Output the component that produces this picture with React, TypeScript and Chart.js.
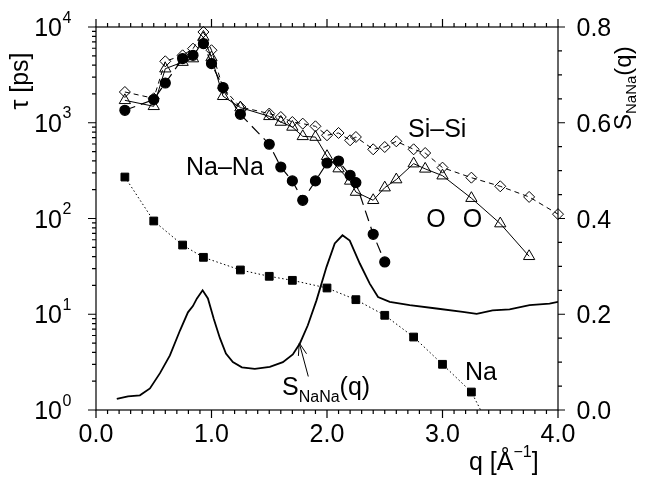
import React, { useEffect, useRef } from 'react';
import { Chart, registerables } from 'chart.js';
Chart.register(...registerables);

// Si–Si (open diamonds, dashed)
const qSi = [0.25, 0.5, 0.6, 0.75, 0.84, 0.93, 1.0, 1.1, 1.25, 1.5, 1.6, 1.7, 1.79, 1.9, 2.0, 2.1, 2.2, 2.25, 2.4, 2.5, 2.6, 2.75, 2.85, 3.0, 3.25, 3.5, 3.75, 4.0];
const tauSi = [2095, 1800, 4385, 5060, 5940, 8870, 5720, 2300, 1460, 1247, 1148, 1018, 979, 918, 740, 782, 656, 710, 528, 558, 640, 528, 483, 340, 267, 217, 168, 111];

// O–O (open triangles, solid)
const qO = [0.25, 0.5, 0.6, 0.75, 0.84, 0.93, 1.0, 1.1, 1.25, 1.5, 1.6, 1.7, 1.79, 1.9, 2.0, 2.1, 2.2, 2.25, 2.4, 2.5, 2.6, 2.75, 2.85, 3.0, 3.25, 3.5, 3.75];
const tauO = [1715, 1485, 3670, 4300, 4680, 7870, 4800, 1890, 1440, 1167, 1018, 904, 721, 709, 447, 332, 247, 189, 155, 210, 255, 374, 330, 280, 163, 88.5, 40.3];

// Na–Na (filled circles, long dashes)
const qNaNa = [0.25, 0.5, 0.6, 0.75, 0.84, 0.93, 1.0, 1.1, 1.25, 1.5, 1.6, 1.7, 1.79, 1.9, 2.0, 2.1, 2.2, 2.25, 2.4, 2.5];
const tauNaNa = [1349, 1746, 2600, 4680, 5060, 6700, 4150, 2330, 1225, 596, 345, 247, 155, 247, 380, 398, 283, 237, 68.4, 35.2];

// Na (filled squares, dotted)
const qNa = [0.25, 0.5, 0.75, 0.93, 1.25, 1.5, 1.7, 2.0, 2.25, 2.5, 2.75, 3.0, 3.25, 3.5];
const tauNa = [271, 94.2, 52.8, 39.3, 29.0, 24.9, 22.6, 18.8, 14.2, 9.75, 5.78, 3.0, 1.54, 0.4];

// S_NaNa(q) (right axis, solid curve)
const qS = [0.18, 0.277, 0.38, 0.467, 0.554, 0.64, 0.727, 0.796, 0.839, 0.874, 0.923, 0.969, 1.02, 1.073, 1.125, 1.185, 1.263, 1.375, 1.505, 1.618, 1.704, 1.765, 1.834, 1.909, 1.996, 2.067, 2.134, 2.197, 2.284, 2.37, 2.442, 2.543, 2.716, 2.947, 3.175, 3.296, 3.434, 3.581, 3.754, 3.927, 4.0];
const sNaNa = [0.023, 0.0286, 0.0307, 0.045, 0.077, 0.114, 0.166, 0.204, 0.217, 0.233, 0.25, 0.233, 0.19, 0.15, 0.118, 0.1, 0.089, 0.086, 0.09, 0.1, 0.116, 0.139, 0.177, 0.229, 0.299, 0.348, 0.365, 0.354, 0.306, 0.264, 0.236, 0.226, 0.219, 0.212, 0.205, 0.201, 0.208, 0.21, 0.219, 0.222, 0.226];

const xTickValues = [0, 1, 2, 3, 4];
const xTickLabels = ['0.0', '1.0', '2.0', '3.0', '4.0'];
const leftTickExps = [0, 1, 2, 3, 4];
const rightTickValues = [0, 0.2, 0.4, 0.6, 0.8];
const rightTickLabels = ['0.0', '0.2', '0.4', '0.6', '0.8'];

const FONT = '"Liberation Sans", Arial, Helvetica, sans-serif';

function pts(xs: number[], ys: number[]) {
  return xs.map((x, i) => ({ x, y: ys[i] }));
}

const decoPlugin = {
  id: 'deco',
  afterDraw(chart: any) {
    const ctx: CanvasRenderingContext2D = chart.ctx;
    const { left, right, top, bottom } = chart.chartArea;
    const xs = chart.scales.x, ys = chart.scales.y, y2 = chart.scales.y2;
    ctx.save();
    ctx.strokeStyle = '#000';
    ctx.fillStyle = '#000';
    ctx.lineWidth = 1.2;
    ctx.strokeRect(left, top, right - left, bottom - top);
    ctx.beginPath();
    // x ticks (bottom & top)
    for (let i = 0; i <= 40; i++) {
      const px = xs.getPixelForValue(i / 10);
      const len = i % 10 === 0 ? 8 : 4;
      ctx.moveTo(px, bottom); ctx.lineTo(px, bottom + len);
      ctx.moveTo(px, top); ctx.lineTo(px, top - len);
    }
    // left log ticks
    for (let d = 0; d < 4; d++) {
      for (let m = 1; m <= 9; m++) {
        const py = ys.getPixelForValue(m * Math.pow(10, d));
        const len = m === 1 ? 8 : 4;
        ctx.moveTo(left - len, py); ctx.lineTo(left, py);
      }
    }
    {
      const py = ys.getPixelForValue(10000);
      ctx.moveTo(left - 8, py); ctx.lineTo(left, py);
    }
    // right linear ticks
    for (let i = 0; i <= 16; i++) {
      const py = y2.getPixelForValue(i * 0.05);
      const len = i % 4 === 0 ? 7 : 4;
      ctx.moveTo(right, py); ctx.lineTo(right + len, py);
    }
    ctx.stroke();

    // left labels 10^n
    ctx.textBaseline = 'alphabetic';
    leftTickExps.forEach((e) => {
      const py = ys.getPixelForValue(Math.pow(10, e));
      ctx.font = `25px ${FONT}`;
      ctx.textAlign = 'right';
      ctx.fillText('10', left - 34, py + 9);
      ctx.font = `16px ${FONT}`;
      ctx.textAlign = 'left';
      ctx.fillText(String(e), left - 33.5, py - 4.4);
    });
    // bottom labels
    ctx.font = `25px ${FONT}`;
    ctx.textAlign = 'center';
    xTickValues.forEach((v, i) => {
      ctx.fillText(xTickLabels[i], xs.getPixelForValue(v), bottom + 31.5);
    });
    // right labels
    ctx.textAlign = 'left';
    rightTickValues.forEach((v, i) => {
      ctx.fillText(rightTickLabels[i], right + 18.5, y2.getPixelForValue(v) + 9);
    });

    // left title: τ [ps]
    ctx.save();
    ctx.translate(28, 81);
    ctx.rotate(-Math.PI / 2);
    ctx.textAlign = 'center';
    ctx.font = `25px ${FONT}`;
    ctx.fillText('τ [ps]', 0, 0);
    ctx.restore();

    // right title: S_NaNa(q)
    ctx.save();
    ctx.translate(631, 130);
    ctx.rotate(-Math.PI / 2);
    ctx.textAlign = 'left';
    ctx.font = `24px ${FONT}`;
    ctx.fillText('S', 0, 0);
    let w = ctx.measureText('S').width;
    ctx.font = `15px ${FONT}`;
    ctx.fillText('NaNa', w, 5);
    w += ctx.measureText('NaNa').width;
    ctx.font = `24px ${FONT}`;
    ctx.fillText('(q)', w, 0);
    ctx.restore();

    // x title: q [Å^-1]
    ctx.textAlign = 'left';
    ctx.font = `25px ${FONT}`;
    let tx = 469;
    ctx.fillText('q [Å', tx, 470);
    tx += ctx.measureText('q [Å').width;
    ctx.font = `16px ${FONT}`;
    ctx.fillText('−1', tx, 457);
    tx += ctx.measureText('−1').width;
    ctx.font = `25px ${FONT}`;
    ctx.fillText(']', tx, 470);

    // series labels
    ctx.font = `25px ${FONT}`;
    ctx.textAlign = 'left';
    ctx.fillText('Na–Na', 186, 175);
    ctx.fillText('Si–Si', 408, 137);
    ctx.fillText('Na', 465, 380);
    ctx.textAlign = 'center';
    ctx.fillText('O', 436, 227);
    ctx.fillText('O', 472.5, 227);

    // S_NaNa(q) annotation
    ctx.textAlign = 'left';
    ctx.font = `25px ${FONT}`;
    let ax = 282;
    ctx.fillText('S', ax, 395);
    ax += ctx.measureText('S').width;
    ctx.font = `16px ${FONT}`;
    ctx.fillText('NaNa', ax, 401.5);
    ax += ctx.measureText('NaNa').width;
    ctx.font = `25px ${FONT}`;
    ctx.fillText('(q)', ax, 395);

    // arrow to the curve
    const tipX = xs.getPixelForValue(1.76), tipY = y2.getPixelForValue(0.14);
    const tailX = xs.getPixelForValue(1.838), tailY = y2.getPixelForValue(0.07);
    const ang = Math.atan2(tailY - tipY, tailX - tipX);
    const hl = 13, ha = 0.33;
    ctx.lineWidth = 1;
    ctx.beginPath();
    ctx.moveTo(tailX, tailY); ctx.lineTo(tipX, tipY);
    ctx.moveTo(tipX + hl * Math.cos(ang - ha), tipY + hl * Math.sin(ang - ha));
    ctx.lineTo(tipX, tipY);
    ctx.lineTo(tipX + hl * Math.cos(ang + ha), tipY + hl * Math.sin(ang + ha));
    ctx.stroke();
    ctx.restore();
  },
};

export default function App() {
  const ref = useRef<HTMLCanvasElement | null>(null);
  useEffect(() => {
    if (!ref.current) return;
    const open = 'rgba(0,0,0,0)';
    const chart = new Chart(ref.current, {
      type: 'line',
      data: {
        datasets: [
          {
            label: 'S_NaNa(q)', data: pts(qS, sNaNa), yAxisID: 'y2',
            borderColor: '#000', borderWidth: 1.8, pointRadius: 0, fill: false, tension: 0,
          },
          {
            label: 'Na–Na', data: pts(qNaNa, tauNaNa), yAxisID: 'y',
            borderColor: '#000', borderWidth: 1.2, borderDash: [11, 6],
            pointStyle: 'circle', pointRadius: 5, pointBackgroundColor: '#000', pointBorderColor: '#000',
            fill: false, tension: 0, clip: 8,
          },
          {
            label: 'Si–Si', data: pts(qSi, tauSi), yAxisID: 'y',
            borderColor: '#000', borderWidth: 1, borderDash: [5, 4],
            pointStyle: 'rectRot', pointRadius: 5.5, pointBackgroundColor: open, pointBorderColor: '#000', pointBorderWidth: 1,
            fill: false, tension: 0, clip: 8,
          },
          {
            label: 'O–O', data: pts(qO, tauO), yAxisID: 'y',
            borderColor: '#000', borderWidth: 1,
            pointStyle: 'triangle', pointRadius: 6.5, pointBackgroundColor: open, pointBorderColor: '#000', pointBorderWidth: 1,
            fill: false, tension: 0, clip: 8,
          },
          {
            label: 'Na', data: pts(qNa, tauNa), yAxisID: 'y',
            borderColor: '#000', borderWidth: 1, borderDash: [1.5, 2.5],
            pointStyle: 'rect', pointRadius: 5.5, pointBackgroundColor: '#000', pointBorderColor: '#000',
            fill: false, tension: 0,
          },
        ],
      },
      options: {
        animation: false,
        responsive: false,
        devicePixelRatio: 1,
        layout: { padding: { left: 96, right: 87, top: 27, bottom: 67 } },
        plugins: { legend: { display: false }, tooltip: { enabled: false } },
        scales: {
          x: { type: 'linear', min: 0, max: 4, display: false },
          y: { type: 'logarithmic', min: 1, max: 10000, display: false },
          y2: { type: 'linear', min: 0, max: 0.8, display: false, position: 'right' },
        },
      },
      plugins: [decoPlugin],
    } as any);
    return () => chart.destroy();
  }, []);
  return (
    <div style={{ position: 'fixed', left: 0, top: 0, width: 645, height: 477, background: '#fff' }}>
      <canvas ref={ref} width={645} height={477} style={{ display: 'block' }} />
    </div>
  );
}
